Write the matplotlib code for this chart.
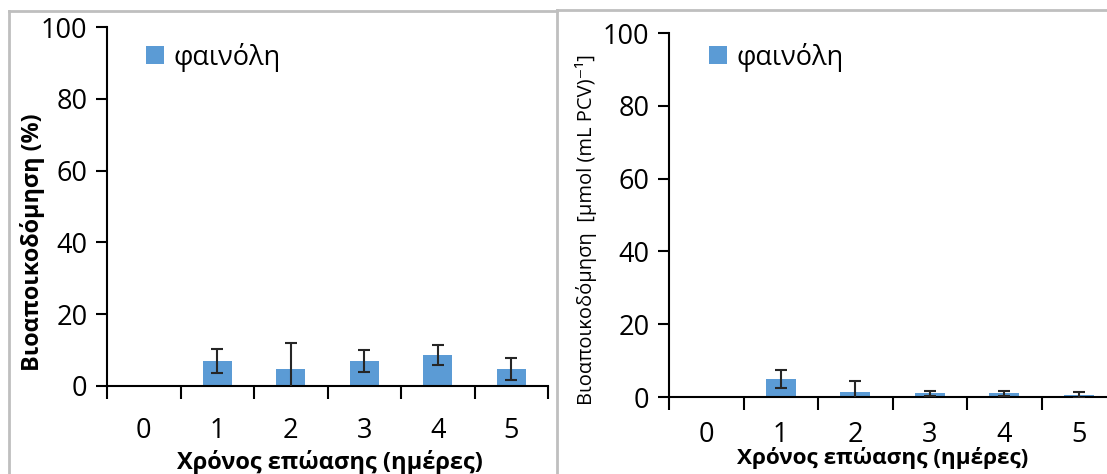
import matplotlib
matplotlib.use("Agg")
import matplotlib.pyplot as plt
from matplotlib.lines import Line2D
import numpy as np

plt.rcParams['font.family'] = ['Open Sans', 'DejaVu Sans']

days = ['0', '1', '2', '3', '4', '5']
pct_values = [0, 7.0, 4.7, 7.0, 8.6, 4.7]
pct_errors = [0, 3.3, 7.2, 3.0, 2.8, 3.1]
umol_values = [0, 4.9, 1.5, 1.0, 1.0, 0.5]
umol_errors = [0, 2.5, 2.9, 0.7, 0.7, 0.9]
series_name = 'φαινόλη'
xlabel = 'Χρόνος επώασης (ημέρες)'
ylabel_left = 'Βιοαποικοδόμηση (%)'
ylabel_right = 'Βιοαποικοδόμηση  [μmol (mL PCV)⁻¹]'

W, H = 1107, 474
fig = plt.figure(figsize=(W / 100, H / 100), dpi=100)

bar_color = '#5B9BD5'
err_color = '#262626'
border = '#BFBFBF'

def px(x0, y0, x1, y1):
    return [x0 / W, 1 - y1 / H, (x1 - x0) / W, (y1 - y0) / H]

def panel(ax, values, errors, ylab, ylab_bold, ylab_size, xlab_size,
          ylab_pos, xlab_pos, leg_pos, xtick_pad):
    x = np.arange(len(days))
    bars = ax.bar(x, values, width=0.4, color=bar_color, label=series_name, zorder=2)
    ax.errorbar(x[1:], values[1:], yerr=errors[1:], fmt='none', ecolor=err_color,
                elinewidth=1.5, capsize=4.5, capthick=1.5, zorder=3)
    ax.set_xlim(-0.5, len(days) - 0.5)
    ax.set_ylim(0, 100)
    ax.set_yticks([0, 20, 40, 60, 80, 100])
    ax.set_xticks(x)
    ax.set_xticklabels(days)
    ax.set_xticks(np.arange(-0.5, len(days), 1.0), minor=True)
    ax.tick_params(axis='x', which='major', length=0, pad=xtick_pad, labelsize=19.5)
    ax.tick_params(axis='x', which='minor', length=9, width=1.5, direction='out')
    ax.tick_params(axis='y', length=8, width=1.5, pad=6, labelsize=19.5)
    for s in ['top', 'right']:
        ax.spines[s].set_visible(False)
    for s in ['left', 'bottom']:
        ax.spines[s].set_linewidth(1.5)
        ax.spines[s].set_color('black')
    ax.set_ylabel(ylab, fontsize=ylab_size,
                  fontweight='bold' if ylab_bold else 'normal', va='center', ha='center')
    ax.yaxis.set_label_coords(*ylab_pos)
    ax.set_xlabel(xlabel, fontsize=xlab_size, fontweight='bold', va='center', ha='center')
    ax.xaxis.set_label_coords(*xlab_pos)
    ax.legend(handles=[bars], loc='center left',
              bbox_to_anchor=(leg_pos[0] / W, 1 - leg_pos[1] / H),
              bbox_transform=fig.transFigure, frameon=False, fontsize=19.5,
              handlelength=0.65, handleheight=0.65, handletextpad=0.35,
              borderpad=0, borderaxespad=0)

ax1 = fig.add_axes(px(107, 27, 548, 386))
panel(ax1, pct_values, pct_errors, ylabel_left, True, 16.8, 17,
      (-0.170, 0.40), (0.506, -0.212), (146, 57), 22)

ax2 = fig.add_axes(px(669, 33, 1116, 397))
panel(ax2, umol_values, umol_errors, ylabel_right, False, 14.5, 16.2,
      (-0.186, 0.459), (0.479, -0.168), (709, 57), 17)

# panel borders
def fline(xs, ys):
    fig.add_artist(Line2D([v / W for v in xs], [1 - v / H for v in ys],
                          color=border, linewidth=2, transform=fig.transFigure))

fline([8.5, 8.5], [474, 10.5])
fline([8.5, 557], [10.5, 10.5])
fline([557, 557], [9.5, 474])
fline([557, 1107], [9.5, 9.5])

fig.savefig('out.png', dpi=100)
